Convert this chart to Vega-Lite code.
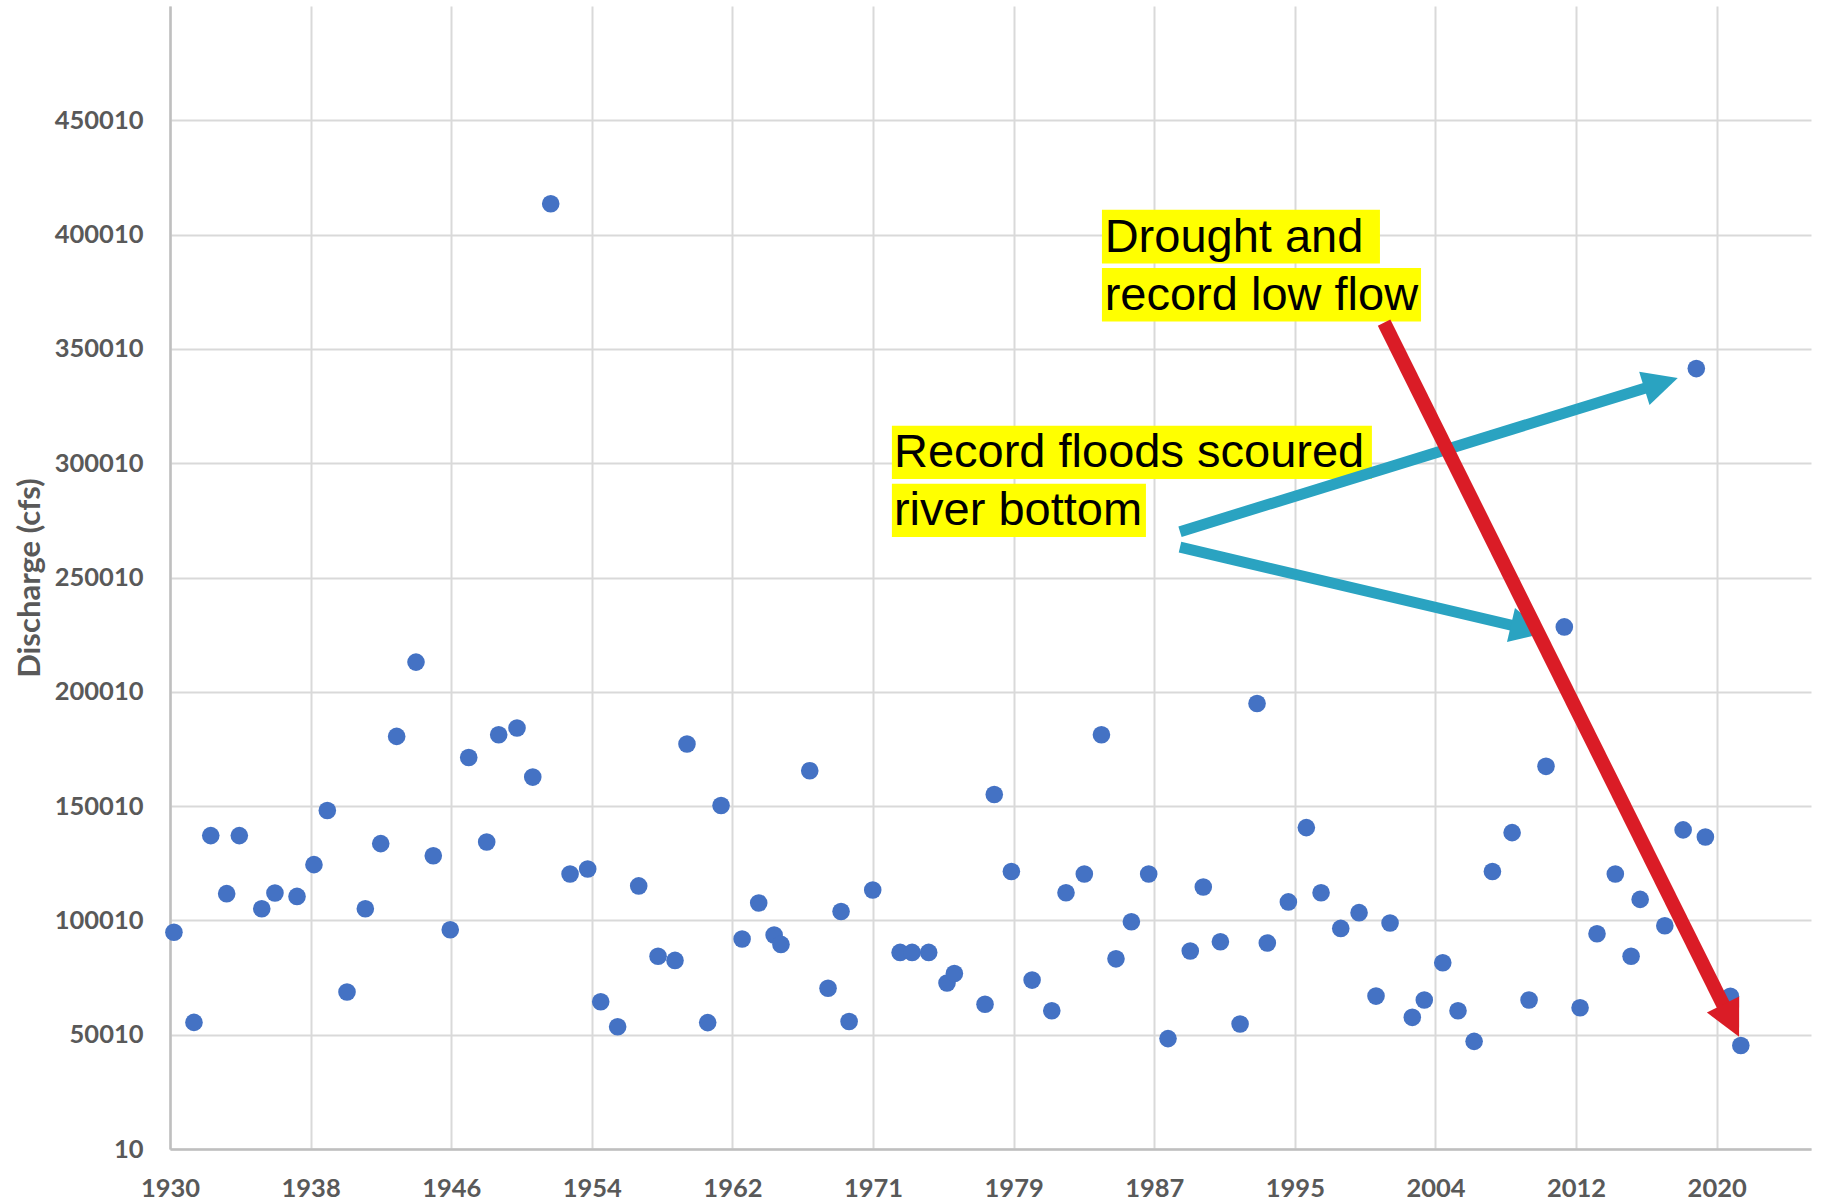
{
  "$schema": "https://vega.github.io/schema/vega-lite/v6.json",
  "width": 1641,
  "height": 1143,
  "autosize": {"type": "none"},
  "padding": {"left": 170, "top": 6, "right": 13, "bottom": 53},
  "background": "white",
  "config": {
    "view": {"stroke": null},
    "axis": {
      "grid": true,
      "gridColor": "#D9D9D9",
      "gridWidth": 2,
      "domainColor": "#BFBFBF",
      "domainWidth": 2.5,
      "ticks": false,
      "labelFlush": false,
      "labelFont": "Lato",
      "labelFontWeight": "bold",
      "labelFontSize": 25.5,
      "labelColor": "#595959",
      "titleFont": "Lato",
      "titleFontWeight": "bold",
      "titleFontSize": 31,
      "titleColor": "#595959"
    }
  },
  "datasets": {
    "peaks": [
      {"year": 1930.34, "discharge": 94800},
      {"year": 1931.51, "discharge": 55400},
      {"year": 1932.49, "discharge": 137100},
      {"year": 1933.42, "discharge": 111700},
      {"year": 1934.16, "discharge": 137100},
      {"year": 1935.47, "discharge": 105100},
      {"year": 1936.24, "discharge": 112000},
      {"year": 1937.53, "discharge": 110500},
      {"year": 1938.52, "discharge": 124400},
      {"year": 1939.30, "discharge": 148100},
      {"year": 1940.45, "discharge": 68700},
      {"year": 1941.52, "discharge": 105100},
      {"year": 1942.42, "discharge": 133600},
      {"year": 1943.35, "discharge": 180500},
      {"year": 1944.48, "discharge": 213000},
      {"year": 1945.49, "discharge": 128300},
      {"year": 1946.48, "discharge": 95900},
      {"year": 1947.56, "discharge": 171300},
      {"year": 1948.61, "discharge": 134300},
      {"year": 1949.31, "discharge": 181200},
      {"year": 1950.38, "discharge": 184200},
      {"year": 1951.30, "discharge": 162700},
      {"year": 1952.35, "discharge": 413500},
      {"year": 1953.48, "discharge": 120300},
      {"year": 1954.51, "discharge": 122500},
      {"year": 1955.27, "discharge": 64400},
      {"year": 1956.26, "discharge": 53500},
      {"year": 1957.49, "discharge": 115100},
      {"year": 1958.62, "discharge": 84300},
      {"year": 1959.61, "discharge": 82500},
      {"year": 1960.31, "discharge": 177200},
      {"year": 1961.52, "discharge": 55300},
      {"year": 1962.30, "discharge": 150300},
      {"year": 1963.53, "discharge": 91900},
      {"year": 1964.50, "discharge": 107600},
      {"year": 1965.40, "discharge": 93600},
      {"year": 1965.80, "discharge": 89500},
      {"year": 1967.48, "discharge": 165500},
      {"year": 1968.55, "discharge": 70300},
      {"year": 1969.31, "discharge": 103900},
      {"year": 1969.78, "discharge": 55800},
      {"year": 1971.16, "discharge": 113300},
      {"year": 1972.76, "discharge": 86000},
      {"year": 1973.46, "discharge": 86000},
      {"year": 1974.43, "discharge": 86000},
      {"year": 1975.50, "discharge": 72600},
      {"year": 1975.93, "discharge": 76800},
      {"year": 1977.72, "discharge": 63300},
      {"year": 1978.26, "discharge": 155100},
      {"year": 1979.26, "discharge": 121400},
      {"year": 1980.47, "discharge": 73900},
      {"year": 1981.62, "discharge": 60500},
      {"year": 1982.45, "discharge": 112100},
      {"year": 1983.52, "discharge": 120300},
      {"year": 1984.52, "discharge": 181200},
      {"year": 1985.37, "discharge": 83200},
      {"year": 1986.27, "discharge": 99400},
      {"year": 1987.28, "discharge": 120300},
      {"year": 1988.41, "discharge": 48300},
      {"year": 1989.71, "discharge": 86600},
      {"year": 1990.47, "discharge": 114600},
      {"year": 1991.47, "discharge": 90700},
      {"year": 1992.62, "discharge": 54700},
      {"year": 1993.61, "discharge": 194900},
      {"year": 1994.21, "discharge": 90100},
      {"year": 1995.44, "discharge": 108100},
      {"year": 1996.49, "discharge": 140600},
      {"year": 1997.35, "discharge": 112100},
      {"year": 1998.50, "discharge": 96500},
      {"year": 1999.57, "discharge": 103400},
      {"year": 2000.56, "discharge": 66900},
      {"year": 2001.38, "discharge": 98900},
      {"year": 2002.68, "discharge": 57600},
      {"year": 2003.38, "discharge": 65200},
      {"year": 2004.46, "discharge": 81500},
      {"year": 2005.35, "discharge": 60500},
      {"year": 2006.29, "discharge": 47100},
      {"year": 2007.36, "discharge": 121400},
      {"year": 2008.51, "discharge": 138400},
      {"year": 2009.50, "discharge": 65200},
      {"year": 2010.49, "discharge": 167400},
      {"year": 2011.56, "discharge": 228400},
      {"year": 2012.48, "discharge": 61800},
      {"year": 2013.47, "discharge": 94200},
      {"year": 2014.54, "discharge": 120300},
      {"year": 2015.46, "discharge": 84300},
      {"year": 2015.99, "discharge": 109200},
      {"year": 2017.43, "discharge": 97700},
      {"year": 2018.50, "discharge": 139600},
      {"year": 2019.27, "discharge": 341400},
      {"year": 2019.80, "discharge": 136500},
      {"year": 2021.26, "discharge": 66800},
      {"year": 2021.87, "discharge": 45300}
    ],
    "boxes": [
      {"x1": 1984.55, "x2": 2000.79, "y1": 410900, "y2": 387400},
      {"x1": 1984.55, "x2": 2003.19, "y1": 385400, "y2": 362000},
      {"x1": 1972.28, "x2": 2000.32, "y1": 316400, "y2": 293100},
      {"x1": 1972.28, "x2": 1987.12, "y1": 291000, "y2": 267700}
    ],
    "notes": [
      {"x": 1984.71, "y": 392200, "text": "Drought and"},
      {"x": 1984.71, "y": 367200, "text": "record low flow"},
      {"x": 1972.40, "y": 298200, "text": "Record floods scoured"},
      {"x": 1972.40, "y": 273100, "text": "river bottom"}
    ],
    "arrows": [
      {"id": "drought", "x1": 2001.03, "y1": 361480, "x2": 2021.30, "y2": 56135},
      {"id": "flood2019", "x1": 1989.11, "y1": 270050, "x2": 2017.21, "y2": 335010},
      {"id": "flood2011", "x1": 1989.11, "y1": 263270, "x2": 2009.44, "y2": 227480}
    ]
  },
  "layer": [
    {
      "data": {"name": "peaks"},
      "mark": {"type": "circle", "size": 310, "color": "#4472C4", "opacity": 1},
      "encoding": {
        "x": {"field": "year", "type": "quantitative",
          "scale": {"domain": [1930.11, 2025.97], "nice": false, "zero": false},
          "axis": {"title": null, "values": [1930.11, 1938.3236, 1946.5372, 1954.7508, 1962.9644, 1971.178, 1979.3916, 1987.6052, 1995.8188, 2004.0324, 2012.246, 2020.4596], "labelExpr": "floor(datum.value)", "labelPadding": 27}},
        "y": {"field": "discharge", "type": "quantitative",
          "scale": {"domain": [10, 500010], "nice": false, "zero": false},
          "axis": {"title": "Discharge (cfs)", "values": [10, 50010, 100010, 150010, 200010, 250010, 300010, 350010, 400010, 450010], "format": "d", "labelPadding": 27, "titlePadding": 8}}
      }
    },
    {
      "data": {"name": "boxes"},
      "mark": {"type": "rect", "color": "#FFFF00"},
      "encoding": {
        "x": {"field": "x1", "type": "quantitative",
          "axis": {"title": null, "values": [1930.11, 1938.3236, 1946.5372, 1954.7508, 1962.9644, 1971.178, 1979.3916, 1987.6052, 1995.8188, 2004.0324, 2012.246, 2020.4596], "labelExpr": "floor(datum.value)", "labelPadding": 27}},
        "x2": {"field": "x2"},
        "y": {"field": "y1", "type": "quantitative",
          "axis": {"title": "Discharge (cfs)", "values": [10, 50010, 100010, 150010, 200010, 250010, 300010, 350010, 400010, 450010], "format": "d", "labelPadding": 27, "titlePadding": 8}},
        "y2": {"field": "y2"}
      }
    },
    {
      "data": {"name": "notes"},
      "mark": {"type": "text", "font": "Liberation Sans", "fontSize": 47, "align": "left", "baseline": "alphabetic", "color": "#000000"},
      "encoding": {
        "x": {"field": "x", "type": "quantitative",
          "axis": {"title": null, "values": [1930.11, 1938.3236, 1946.5372, 1954.7508, 1962.9644, 1971.178, 1979.3916, 1987.6052, 1995.8188, 2004.0324, 2012.246, 2020.4596], "labelExpr": "floor(datum.value)", "labelPadding": 27}},
        "y": {"field": "y", "type": "quantitative",
          "axis": {"title": "Discharge (cfs)", "values": [10, 50010, 100010, 150010, 200010, 250010, 300010, 350010, 400010, 450010], "format": "d", "labelPadding": 27, "titlePadding": 8}},
        "text": {"field": "text"}
      }
    },
    {
      "data": {"name": "arrows"},
      "transform": [{"filter": "datum.id != 'drought'"}],
      "mark": {"type": "rule", "color": "#2AA3C1", "strokeWidth": 11, "strokeCap": "butt"},
      "encoding": {
        "x": {"field": "x1", "type": "quantitative",
          "axis": {"title": null, "values": [1930.11, 1938.3236, 1946.5372, 1954.7508, 1962.9644, 1971.178, 1979.3916, 1987.6052, 1995.8188, 2004.0324, 2012.246, 2020.4596], "labelExpr": "floor(datum.value)", "labelPadding": 27}},
        "y": {"field": "y1", "type": "quantitative",
          "axis": {"title": "Discharge (cfs)", "values": [10, 50010, 100010, 150010, 200010, 250010, 300010, 350010, 400010, 450010], "format": "d", "labelPadding": 27, "titlePadding": 8}},
        "x2": {"field": "x2"},
        "y2": {"field": "y2"}
      }
    },
    {
      "data": {"name": "arrows"},
      "transform": [{"filter": "datum.id == 'flood2019'"}],
      "mark": {"type": "point", "shape": "M0,-1L1,1L-1,1Z", "filled": true, "size": 1225, "angle": 72.8, "color": "#2AA3C1", "opacity": 1, "strokeWidth": 0},
      "encoding": {
        "x": {"field": "x2", "type": "quantitative",
          "axis": {"title": null, "values": [1930.11, 1938.3236, 1946.5372, 1954.7508, 1962.9644, 1971.178, 1979.3916, 1987.6052, 1995.8188, 2004.0324, 2012.246, 2020.4596], "labelExpr": "floor(datum.value)", "labelPadding": 27}},
        "y": {"field": "y2", "type": "quantitative",
          "axis": {"title": "Discharge (cfs)", "values": [10, 50010, 100010, 150010, 200010, 250010, 300010, 350010, 400010, 450010], "format": "d", "labelPadding": 27, "titlePadding": 8}}
      }
    },
    {
      "data": {"name": "arrows"},
      "transform": [{"filter": "datum.id == 'flood2011'"}],
      "mark": {"type": "point", "shape": "M0,-1L1,1L-1,1Z", "filled": true, "size": 1225, "angle": 103.2, "color": "#2AA3C1", "opacity": 1, "strokeWidth": 0},
      "encoding": {
        "x": {"field": "x2", "type": "quantitative",
          "axis": {"title": null, "values": [1930.11, 1938.3236, 1946.5372, 1954.7508, 1962.9644, 1971.178, 1979.3916, 1987.6052, 1995.8188, 2004.0324, 2012.246, 2020.4596], "labelExpr": "floor(datum.value)", "labelPadding": 27}},
        "y": {"field": "y2", "type": "quantitative",
          "axis": {"title": "Discharge (cfs)", "values": [10, 50010, 100010, 150010, 200010, 250010, 300010, 350010, 400010, 450010], "format": "d", "labelPadding": 27, "titlePadding": 8}}
      }
    },
    {
      "data": {"name": "arrows"},
      "transform": [{"filter": "datum.id == 'drought'"}],
      "mark": {"type": "rule", "color": "#DA1C26", "strokeWidth": 14, "strokeCap": "butt"},
      "encoding": {
        "x": {"field": "x1", "type": "quantitative",
          "axis": {"title": null, "values": [1930.11, 1938.3236, 1946.5372, 1954.7508, 1962.9644, 1971.178, 1979.3916, 1987.6052, 1995.8188, 2004.0324, 2012.246, 2020.4596], "labelExpr": "floor(datum.value)", "labelPadding": 27}},
        "y": {"field": "y1", "type": "quantitative",
          "axis": {"title": "Discharge (cfs)", "values": [10, 50010, 100010, 150010, 200010, 250010, 300010, 350010, 400010, 450010], "format": "d", "labelPadding": 27, "titlePadding": 8}},
        "x2": {"field": "x2"},
        "y2": {"field": "y2"}
      }
    },
    {
      "data": {"name": "arrows"},
      "transform": [{"filter": "datum.id == 'drought'"}],
      "mark": {"type": "point", "shape": "M0,-1L1,1L-1,1Z", "filled": true, "size": 1300, "angle": 153.6, "color": "#DA1C26", "opacity": 1, "strokeWidth": 0},
      "encoding": {
        "x": {"field": "x2", "type": "quantitative",
          "axis": {"title": null, "values": [1930.11, 1938.3236, 1946.5372, 1954.7508, 1962.9644, 1971.178, 1979.3916, 1987.6052, 1995.8188, 2004.0324, 2012.246, 2020.4596], "labelExpr": "floor(datum.value)", "labelPadding": 27}},
        "y": {"field": "y2", "type": "quantitative",
          "axis": {"title": "Discharge (cfs)", "values": [10, 50010, 100010, 150010, 200010, 250010, 300010, 350010, 400010, 450010], "format": "d", "labelPadding": 27, "titlePadding": 8}}
      }
    }
  ]
}
